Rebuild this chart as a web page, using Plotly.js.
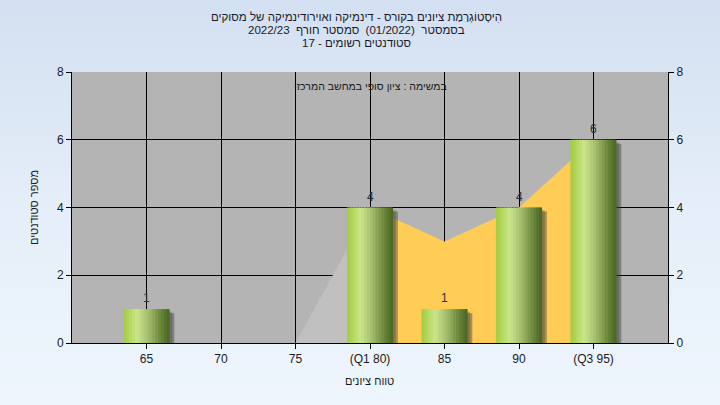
<!DOCTYPE html>
<html>
<head>
<meta charset="utf-8">
<script src="https://cdn.plot.ly/plotly-3.0.1.min.js"></script>
<style>
  html, body { margin: 0; padding: 0; }
  body { width: 720px; height: 405px; background: linear-gradient(to bottom, #d3e0f1 0%, #e6eff9 55%, #eef5fd 100%); }
  #chart { width: 720px; height: 405px; }
</style>
</head>
<body>
<div id="chart"></div>
<script>
// ---- data ----
const categories = [65, 70, 75, 80, 85, 90, 95];
const tickLabels = ['65', '70', '75', '(Q1 80)', '85', '90', '(Q3 95)'];
const counts = [1, 0, 0, 4, 1, 4, 6];
const outerCurveX = [75, 80];
const outerCurveY = [0, 4];
const iqrCurveX = [80, 85, 90, 95];
const iqrCurveY = [4, 3, 4, 6];
const titleLines = [
  'הִיסְטוֹגְרַמַת ציונים בקורס - דינמיקה ואוירודינמיקה של מסוקים',
  'בסמסטר  (01/2022)  סמסטר חורף  2022/23',
  'סטודנטים רשומים - 17'
];
const noteText = 'במשימה : ציון סופי במחשב המרכזי';
const xTitle = 'טווח ציונים';
const yTitle = 'מספר סטודנטים';

// ---- styling helpers ----
const FONT = 'Liberation Sans, Arial, sans-serif';
const barWidth = 3.1;
const strips = 16;
const stops = [
  [0.0, [160, 205, 60]],
  [0.3, [204, 228, 140]],
  [0.55, [162, 188, 108]],
  [0.8, [108, 136, 60]],
  [1.0, [72, 98, 34]]
];
function gradColor(t) {
  for (let i = 0; i < stops.length - 1; i++) {
    const [a, ca] = stops[i], [b, cb] = stops[i + 1];
    if (t >= a && t <= b) {
      const f = (t - a) / (b - a);
      const c = ca.map((v, k) => Math.round(v + (cb[k] - v) * f));
      return 'rgb(' + c.join(',') + ')';
    }
  }
  return 'rgb(72,98,34)';
}

const traces = [];
// area curve outside the interquartile range (main subplot, drawn under bars)
traces.push({
  type: 'scatter', x: outerCurveX, y: outerCurveY, mode: 'lines',
  fill: 'tozeroy', fillcolor: '#c0c0c0', line: { width: 0, color: '#c0c0c0' },
  hoverinfo: 'skip', showlegend: false
});
// area curve inside the interquartile range
traces.push({
  type: 'scatter', x: iqrCurveX, y: iqrCurveY, mode: 'lines',
  fill: 'tozeroy', fillcolor: '#ffcc55', line: { width: 0, color: '#ffcc55' },
  hoverinfo: 'skip', showlegend: false
});
// bar shadow (overlay subplot)
traces.push({
  type: 'bar', x: categories, y: counts.map(v => v > 0 ? v - 0.12 : 0), yaxis: 'y2',
  width: barWidth, offset: -barWidth / 2 + 0.32,
  marker: { color: 'rgba(60,60,60,0.42)', line: { width: 0 } },
  hoverinfo: 'skip', showlegend: false
});
traces.push({
  type: 'bar', x: categories, y: counts.map(v => v > 0 ? v - 0.08 : 0), yaxis: 'y2',
  width: barWidth, offset: -barWidth / 2 + 0.18,
  marker: { color: 'rgba(60,60,60,0.3)', line: { width: 0 } },
  hoverinfo: 'skip', showlegend: false
});
// bars as gradient strips
for (let i = 0; i < strips; i++) {
  const w = barWidth / strips;
  const ww = i === strips - 1 ? w : w * 1.6;
  traces.push({
    type: 'bar', x: categories, y: counts, yaxis: 'y2',
    width: ww, offset: -barWidth / 2 + i * w,
    marker: { color: gradColor((i + 0.5) / strips), line: { width: 0 } },
    hoverinfo: 'skip', showlegend: false
  });
}

const valueLabels = categories.map((c, i) => counts[i] > 0 ? {
  text: String(counts[i]), x: c, y: counts[i], xref: 'x', yref: 'y2',
  yanchor: 'bottom', yshift: 2, showarrow: false,
  font: { family: FONT, size: 12, color: '#2a3040' }
} : null).filter(Boolean);

const axFont = { family: FONT, size: 12, color: '#1a1a1a' };
const titleFont = { family: FONT, size: 11.5, color: '#1a1a2a' };
const layout = {
  width: 720, height: 405,
  margin: { l: 72, r: 52, t: 72, b: 62 },
  paper_bgcolor: 'rgba(0,0,0,0)',
  plot_bgcolor: '#b4b4b4',
  barmode: 'overlay',
  showlegend: false,
  font: axFont,
  xaxis: {
    range: [60, 100], tickvals: categories, ticktext: tickLabels,
    showgrid: true, gridcolor: '#000', gridwidth: 1, zeroline: false,
    showline: true, linecolor: '#000', linewidth: 1,
    ticks: 'outside', ticklen: 5, tickcolor: '#000', tickfont: axFont
  },
  yaxis: {
    range: [0, 8], dtick: 2, tick0: 0,
    showgrid: true, gridcolor: '#000', gridwidth: 1, zeroline: false,
    showline: true, linecolor: '#000', linewidth: 1,
    ticks: 'outside', ticklen: 5, tickcolor: '#000', tickfont: axFont,
    title: { text: yTitle, font: { family: FONT, size: 11, color: '#1a1a1a' }, standoff: 16 }
  },
  yaxis2: {
    overlaying: 'y', side: 'right', range: [0, 8], dtick: 2, tick0: 0,
    showgrid: false, zeroline: false,
    showline: true, linecolor: '#000', linewidth: 1,
    ticks: 'outside', ticklen: 5, tickcolor: '#000', tickfont: axFont
  },
  annotations: [
    { text: titleLines[0], xref: 'paper', yref: 'paper', x: 0.477, y: 1 + (72 - 17) / 271, yanchor: 'middle', showarrow: false, font: titleFont },
    { text: titleLines[1], xref: 'paper', yref: 'paper', x: 0.477, y: 1 + (72 - 30) / 271, yanchor: 'middle', showarrow: false, font: titleFont },
    { text: titleLines[2], xref: 'paper', yref: 'paper', x: 0.477, y: 1 + (72 - 43) / 271, yanchor: 'middle', showarrow: false, font: titleFont },
    { text: noteText, xref: 'x', yref: 'y', x: 80, y: 7.58, yanchor: 'middle', showarrow: false, font: { family: FONT, size: 10.5, color: '#1a1a1a' } },
    { text: xTitle, xref: 'paper', yref: 'paper', x: (369 - 72) / 596, y: (343 - 381) / 271, yanchor: 'middle', showarrow: false, font: { family: FONT, size: 11, color: '#1a1a1a' } }
  ].concat(valueLabels)
};

Plotly.newPlot('chart', traces, layout, { displayModeBar: false, staticPlot: true });
</script>
</body>
</html>
